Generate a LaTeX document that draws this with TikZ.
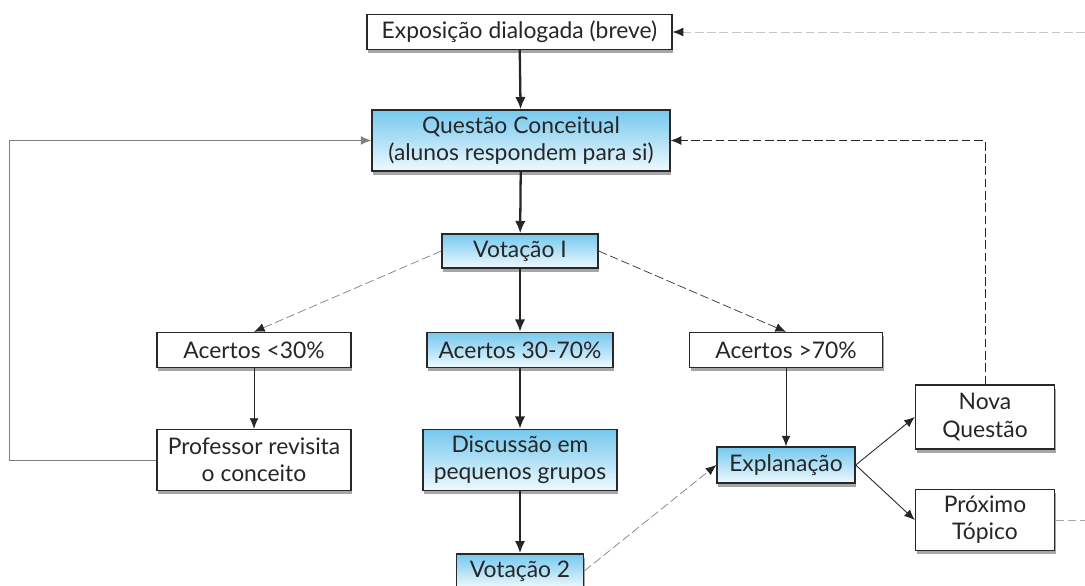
\documentclass[tikz,border=0pt]{standalone}
\usepackage{fontspec}
\setmainfont{Lato}
\usetikzlibrary{shadows, arrows.meta}
\definecolor{skytop}{RGB}{118,200,238}
\definecolor{skybot}{RGB}{238,249,254}
\definecolor{edge}{RGB}{40,40,40}

\begin{document}
\begin{tikzpicture}[line width = 0.5pt,
                      font = \fontsize{13}{15.5}\selectfont,
                      plain/.style = {rectangle, draw = edge, line width = 0.8pt, fill = white,
                                      align = center, inner sep = 0pt, text = black!85,
                                      drop shadow = {opacity = 0.7, shadow xshift = 0.8pt, shadow yshift = -2.2pt}},
                      stage/.style = {plain, top color = skytop, bottom color = skybot},
                      heavy/.style = {-{Latex[length = 7pt, width = 6pt]}, line width = 1.3pt, black!85},
                      thin/.style = {-{Latex[length = 6pt, width = 5pt]}, line width = 0.5pt, black!85},
                      faint/.style = {-{Latex[length = 6pt, width = 5pt, color = black!85]}, line width = 0.4pt, gray, dash pattern = on 5pt off 2pt}]
    \useasboundingbox (0, 0) rectangle (21.7, -11.72);

    \node [plain, minimum width = 6.1cm, minimum height = 0.70cm] (expo) at (10.39, -0.64) {Exposição dialogada (breve)};
    \node [stage, minimum width = 5.96cm, minimum height = 1.22cm] (quest) at (10.42, -2.81) {Questão Conceitual\\(alunos respondem para si)};
    \node [stage, minimum width = 3.12cm, minimum height = 0.68cm] (vot1) at (10.40, -5.02) {Votação I};
    \node [plain, minimum width = 3.88cm, minimum height = 0.70cm] (ac30) at (5.08, -7.00) {Acertos <30\%};
    \node [stage, minimum width = 3.72cm, minimum height = 0.70cm] (ac3070) at (10.40, -7.00) {Acertos 30-70\%};
    \node [plain, minimum width = 3.86cm, minimum height = 0.70cm] (ac70) at (15.72, -7.00) {Acertos >70\%};
    \node [plain, minimum width = 3.88cm, minimum height = 1.22cm] (prof) at (5.08, -9.20) {Professor revisita\\o conceito};
    \node [stage, minimum width = 3.88cm, minimum height = 1.22cm] (disc) at (10.40, -9.20) {Discussão em\\pequenos grupos};
    \node [stage, minimum width = 2.54cm, minimum height = 0.68cm] (vot2) at (10.40, -11.42) {Votação 2};
    \node [stage, minimum width = 2.76cm, minimum height = 0.72cm] (expl) at (15.72, -9.30) {Explanação};
    \node [plain, minimum width = 2.78cm, minimum height = 1.28cm] (nova) at (19.70, -8.34) {Nova\\Questão};
    \node [plain, minimum width = 2.78cm, minimum height = 1.22cm] (prox) at (19.70, -10.40) {Próximo\\Tópico};

    \coordinate (loop) at (0.18, -9.20);
    \coordinate (off) at (21.7, -10.40);
    \coordinate (ret) at (21.7, -0.64);

    \draw [heavy] (expo) -- (quest);
    \draw [heavy] (quest) -- (vot1);
    \draw [heavy] (vot1) -- (ac3070);
    \draw [heavy] (ac3070) -- (disc);
    \draw [heavy] (disc) -- (vot2);
    \draw [faint] (vot1.west) -- (ac30.north);
    \draw [faint, black!80] (vot1.east) -- (ac70.north);
    \draw [thin] (ac30) -- (prof);
    \draw [thin] (ac70) -- (expl);
    \draw [faint] (vot2.east) -- (expl.west);
    \draw [thin] (expl.east) -- (nova.west);
    \draw [thin] (expl.east) -- (prox.west);
    \draw [thin, gray] (prof.west) -- (loop) |- (quest.west);
    \draw [faint, black!85] (nova.north) |- (quest.east);
    \draw [faint, gray!70, -] (prox.east) -- (off);
    \draw [faint, gray!45] (ret) -- (expo.east);
\end{tikzpicture}
\end{document}
